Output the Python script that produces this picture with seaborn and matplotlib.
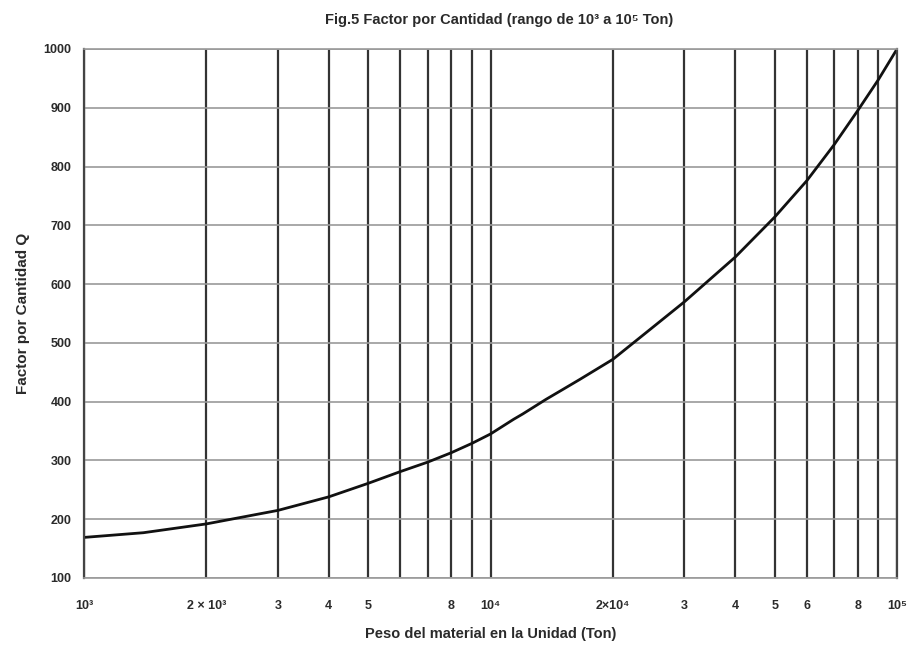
import matplotlib
matplotlib.use("Agg")
import matplotlib.pyplot as plt
import seaborn as sns
import pandas as pd

# Curve: weight of material (Ton) -> quantity factor Q
peso_ton = [1000, 1400, 2000, 3000, 4000, 5000, 6000, 7000, 8000, 9000,
            10000, 11400, 12000, 13700, 15000, 16600, 20000, 24200, 30000,
            40000, 50000, 60000, 70000, 80000, 90000, 100000]
factor_q = [169, 177, 192, 215, 238, 261, 281, 297, 313, 329,
            345, 370, 379, 404, 420, 438, 472, 518, 570,
            646, 714, 776, 837, 895, 948, 1000]

# Log-grid positions and their labels
grid_x = [1000, 2000, 3000, 4000, 5000, 6000, 7000, 8000, 9000,
          10000, 20000, 30000, 40000, 50000, 60000, 70000, 80000, 90000, 100000]
grid_x_labels = ["10³", "2 × 10³", "3", "4", "5", "", "", "8", "",
                 "10⁴", "2×10⁴", "3", "4", "5", "6", "", "8", "", "10⁵"]
y_ticks = [100, 200, 300, 400, 500, 600, 700, 800, 900, 1000]

sns.set_theme(style="white")
plt.rcParams["font.family"] = ["Liberation Sans", "DejaVu Sans"]
plt.rcParams["font.weight"] = "bold"

df = pd.DataFrame({"peso": peso_ton, "q": factor_q})

fig = plt.figure(figsize=(9.12, 6.55), dpi=100)
ax = fig.add_axes([0.0921, 0.1176, 0.8915, 0.8076])

sns.lineplot(data=df, x="peso", y="q", ax=ax, color="#111111", linewidth=2.0)

ax.set_xscale("log")
ax.set_xlim(1000, 100000)
ax.set_ylim(100, 1000)

ax.set_xticks(grid_x)
ax.set_xticklabels(grid_x_labels, fontweight="bold")
ax.minorticks_off()
ax.set_yticks(y_ticks)
ax.set_yticklabels([str(v) for v in y_ticks], fontweight="bold")

ax.tick_params(axis="x", length=0, pad=16, labelsize=9, colors="#2a2a2a")
ax.tick_params(axis="y", length=0, pad=9, labelsize=9, colors="#2a2a2a")

ax.grid(True, axis="x", color="#333333", linewidth=1.6)
ax.grid(True, axis="y", color="#9a9a9a", linewidth=1.2)
ax.set_axisbelow(True)

for side in ["top", "bottom"]:
    ax.spines[side].set_color("#9a9a9a")
    ax.spines[side].set_linewidth(1.2)
for side in ["left", "right"]:
    ax.spines[side].set_color("#444444")
    ax.spines[side].set_linewidth(1.6)

ax.set_xlabel("Peso del material en la Unidad (Ton)", fontsize=10.5,
              fontweight="bold", color="#2a2a2a", labelpad=11)
ax.set_ylabel("Factor por Cantidad Q", fontsize=11, fontweight="bold",
              color="#2a2a2a", labelpad=10)
ax.set_title("Fig.5 Factor por Cantidad (rango de 10³ a 10⁵ Ton)",
             fontsize=10.5, fontweight="bold", color="#2a2a2a", pad=18,
             x=0.51)

fig.savefig("out.png", dpi=100)
